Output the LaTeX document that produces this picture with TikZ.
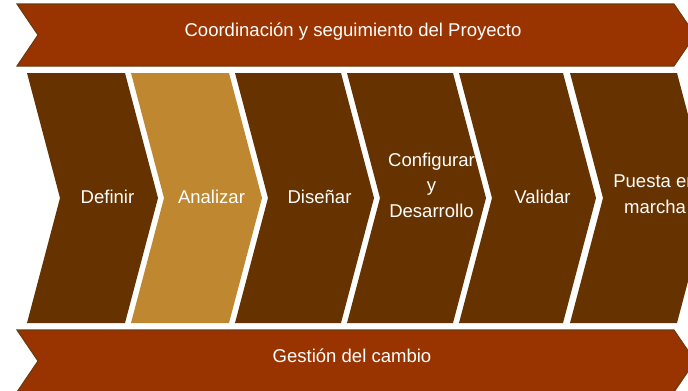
\documentclass[tikz,border=0pt]{standalone}
\usepackage{fontspec}
\setmainfont{Liberation Sans}
\usepackage{tikz}
\definecolor{bannerred}{HTML}{993300}
\definecolor{bannerline}{HTML}{6B3A0E}
\definecolor{chevdark}{HTML}{663300}
\definecolor{chevgold}{HTML}{BF8830}
\tikzset{
  banner/.style = {fill=bannerred, draw=bannerline, line width=0.8pt},
  chevron/.style = {fill=#1},
  lbl/.style = {align=center, inner sep=0pt, text=white, font=\fontsize{13.9}{19.1}\selectfont}
}

\begin{document}
\begin{tikzpicture}[x=0.75pt, y=-0.75pt]
\useasboundingbox (0,0) rectangle (688,390);
\clip (0,0) rectangle (688,390);
% banners
\draw [banner] (17,4) -- (674,4) -- (695,35) -- (674,66) -- (17,66) -- (38,35) -- cycle;
\node [lbl] (coord) at (353,32) {Coordinación y seguimiento del Proyecto};
\draw [banner] (17,330) -- (674,330) -- (695,361) -- (674,392) -- (17,392) -- (38,361) -- cycle;
\node [lbl] (cambio) at (352,355.5) {Gestión del cambio};
% chevrons
\foreach \l/\r/\c/\ty/\name/\txt in {
    27/125/chevdark/197/definir/Definir,
    131/229/chevgold/197/analizar/Analizar,
    235/341/chevdark/197/disenar/Diseñar,
    347/453/chevdark/185/configurar/{Configurar\\y\\Desarrollo},
    459/563/chevdark/197/validar/Validar,
    570/677/chevdark/194/puesta/{Puesta en\\marcha}}
{
  \fill [chevron=\c] (\l,73) -- (\r,73) -- (\r+33,198) -- (\r,323) -- (\l,323) -- (\l+33,198) -- cycle;
  \node [lbl] (\name) at ({(\l+\r)/2+31.5},\ty) {\txt};
}
\end{tikzpicture}
\end{document}
